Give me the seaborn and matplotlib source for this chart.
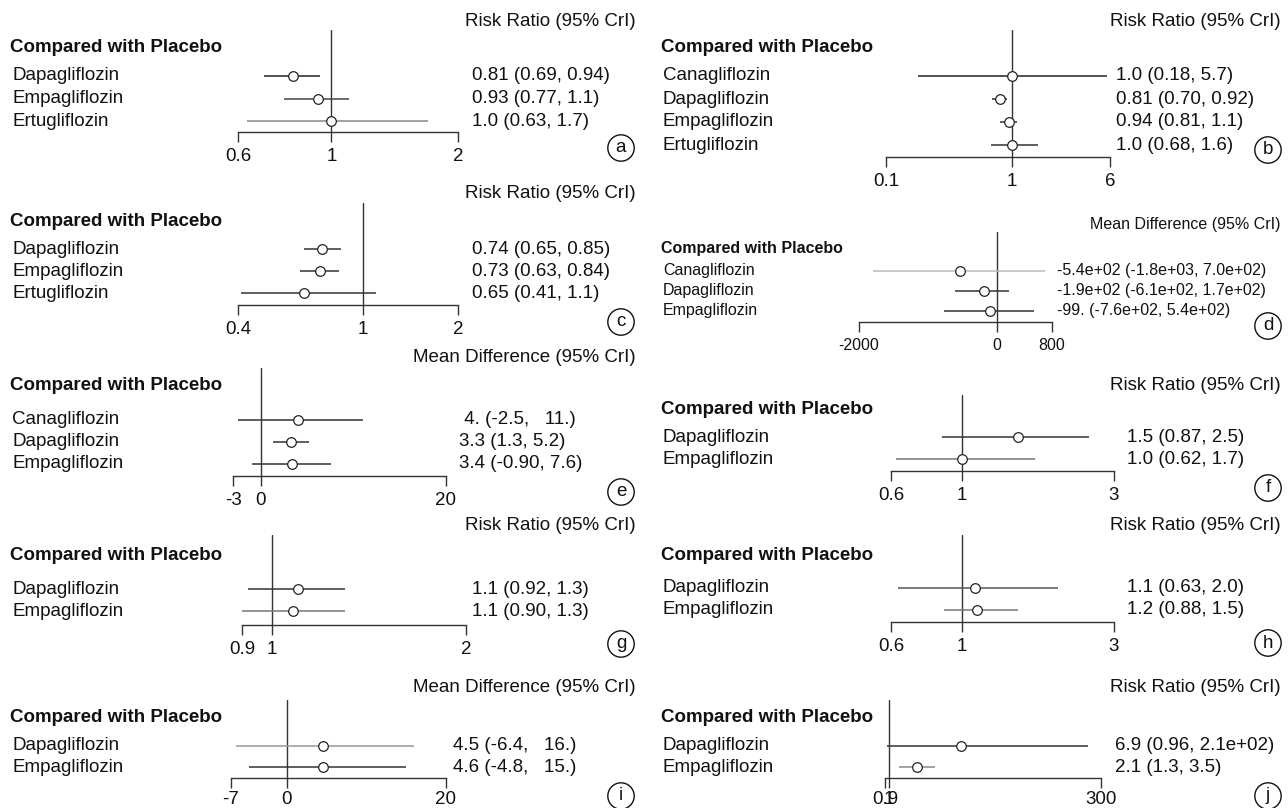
import numpy as np
import pandas as pd
import matplotlib
matplotlib.use("Agg")
import matplotlib.pyplot as plt
import matplotlib.transforms as mtransforms
from matplotlib.ticker import NullLocator
import seaborn as sns

# ---- data ----
drugs_a = ["Dapagliflozin", "Empagliflozin", "Ertugliflozin"]
est_a = [0.81, 0.93, 1.0]
lo_a = [0.69, 0.77, 0.63]
hi_a = [0.94, 1.1, 1.7]
txt_a = ["0.81 (0.69, 0.94)", "0.93 (0.77, 1.1)", "1.0 (0.63, 1.7)"]
ticks_a = [0.6, 1, 2]

drugs_b = ["Canagliflozin", "Dapagliflozin", "Empagliflozin", "Ertugliflozin"]
est_b = [1.0, 0.81, 0.94, 1.0]
lo_b = [0.18, 0.70, 0.81, 0.68]
hi_b = [5.7, 0.92, 1.1, 1.6]
txt_b = ["1.0 (0.18, 5.7)", "0.81 (0.70, 0.92)", "0.94 (0.81, 1.1)", "1.0 (0.68, 1.6)"]
ticks_b = [0.1, 1, 6]

drugs_c = ["Dapagliflozin", "Empagliflozin", "Ertugliflozin"]
est_c = [0.74, 0.73, 0.65]
lo_c = [0.65, 0.63, 0.41]
hi_c = [0.85, 0.84, 1.1]
txt_c = ["0.74 (0.65, 0.85)", "0.73 (0.63, 0.84)", "0.65 (0.41, 1.1)"]
ticks_c = [0.4, 1, 2]

drugs_d = ["Canagliflozin", "Dapagliflozin", "Empagliflozin"]
est_d = [-540, -190, -99]
lo_d = [-1800, -610, -760]
hi_d = [700, 170, 540]
txt_d = ["-5.4e+02 (-1.8e+03, 7.0e+02)", "-1.9e+02 (-6.1e+02, 1.7e+02)",
         "-99. (-7.6e+02, 5.4e+02)"]
ticks_d = [-2000, 0, 800]

drugs_e = ["Canagliflozin", "Dapagliflozin", "Empagliflozin"]
est_e = [4.0, 3.3, 3.4]
lo_e = [-2.5, 1.3, -0.90]
hi_e = [11.0, 5.2, 7.6]
txt_e = [" 4. (-2.5,   11.)", "3.3 (1.3, 5.2)", "3.4 (-0.90, 7.6)"]
ticks_e = [-3, 0, 20]

drugs_f = ["Dapagliflozin", "Empagliflozin"]
est_f = [1.5, 1.0]
lo_f = [0.87, 0.62]
hi_f = [2.5, 1.7]
txt_f = ["1.5 (0.87, 2.5)", "1.0 (0.62, 1.7)"]
ticks_f = [0.6, 1, 3]

drugs_g = ["Dapagliflozin", "Empagliflozin"]
est_g = [1.1, 1.08]
lo_g = [0.92, 0.90]
hi_g = [1.3, 1.3]
txt_g = ["1.1 (0.92, 1.3)", "1.1 (0.90, 1.3)"]
ticks_g = [0.9, 1, 2]

drugs_h = ["Dapagliflozin", "Empagliflozin"]
est_h = [1.1, 1.12]
lo_h = [0.63, 0.88]
hi_h = [2.0, 1.5]
txt_h = ["1.1 (0.63, 2.0)", "1.2 (0.88, 1.5)"]
ticks_h = [0.6, 1, 3]

drugs_i = ["Dapagliflozin", "Empagliflozin"]
est_i = [4.5, 4.6]
lo_i = [-6.4, -4.8]
hi_i = [16.0, 15.0]
txt_i = ["4.5 (-6.4,   16.)", "4.6 (-4.8,   15.)"]
ticks_i = [-7, 0, 20]

drugs_j = ["Dapagliflozin", "Empagliflozin"]
est_j = [6.9, 2.1]
lo_j = [0.96, 1.3]
hi_j = [210, 3.5]
txt_j = ["6.9 (0.96, 2.1e+02)", "2.1 (1.3, 3.5)"]
ticks_j = [0.9, 1, 300]

RR = "Risk Ratio (95% CrI)"
MD = "Mean Difference (95% CrI)"

# ---- layout in pixels ----
W, H = 1288, 808
panels = [
    dict(k="a", d=(drugs_a, est_a, lo_a, hi_a, txt_a, ticks_a), title=RR, log=True, ref=1,
         x0=238, x1=458, top=30, axis=132, row0=76, step=22.5, ty=22, cy=47, vx=472, cc=148,
         greys=["#222222", "#444444", "#888888"], fs=13.5, pad=4.5),
    dict(k="c", d=(drugs_c, est_c, lo_c, hi_c, txt_c, ticks_c), title=RR, log=True, ref=1,
         x0=238, x1=458, top=203, axis=305, row0=249, step=22, ty=194, cy=222, vx=472, cc=322,
         greys=["#333333", "#333333", "#333333"], fs=13.5, pad=4.5),
    dict(k="e", d=(drugs_e, est_e, lo_e, hi_e, txt_e, ticks_e), title=MD, log=False, ref=0,
         x0=233, x1=446, top=368, axis=476, row0=420, step=22, ty=357, cy=385, vx=459, cc=492,
         greys=["#333333", "#333333", "#333333"], fs=13.5, pad=4.5),
    dict(k="g", d=(drugs_g, est_g, lo_g, hi_g, txt_g, ticks_g), title=RR, log=True, ref=1,
         x0=242, x1=466, top=535, axis=625, row0=589, step=22, ty=525, cy=556, vx=472, cc=644,
         greys=["#333333", "#777777"], fs=13.5, pad=4.5),
    dict(k="i", d=(drugs_i, est_i, lo_i, hi_i, txt_i, ticks_i), title=MD, log=False, ref=0,
         x0=231, x1=446, top=700, axis=778, row0=746, step=21, ty=688, cy=717, vx=453, cc=796,
         greys=["#999999", "#333333"], fs=13.5, pad=2),
    dict(k="b", d=(drugs_b, est_b, lo_b, hi_b, txt_b, ticks_b), title=RR, log=True, ref=1,
         x0=886, x1=1110, top=30, axis=157, row0=76, step=23, ty=22, cy=48, vx=1116, cc=150,
         greys=["#222222", "#333333", "#333333", "#333333"], fs=13.5, pad=4.5),
    dict(k="d", d=(drugs_d, est_d, lo_d, hi_d, txt_d, ticks_d), title=MD, log=False, ref=0,
         x0=859, x1=1052, top=232, axis=322, row0=271, step=20, ty=224, cy=326, vx=1057, cc=326,
         greys=["#bbbbbb", "#333333", "#333333"], fs=11.5, pad=4.5),
    dict(k="f", d=(drugs_f, est_f, lo_f, hi_f, txt_f, ticks_f), title=RR, log=True, ref=1,
         x0=891, x1=1114, top=395, axis=471, row0=437, step=22, ty=385, cy=409, vx=1127, cc=488,
         greys=["#333333", "#777777"], fs=13.5, pad=4.5),
    dict(k="h", d=(drugs_h, est_h, lo_h, hi_h, txt_h, ticks_h), title=RR, log=True, ref=1,
         x0=891, x1=1114, top=535, axis=622, row0=588, step=22, ty=525, cy=555, vx=1127, cc=643,
         greys=["#555555", "#777777"], fs=13.5, pad=4.5),
    dict(k="j", d=(drugs_j, est_j, lo_j, hi_j, txt_j, ticks_j), title=RR, log=True, ref=1,
         x0=885, x1=1101, top=700, axis=778, row0=746, step=21, ty=688, cy=717, vx=1115, cc=796,
         greys=["#333333", "#888888"], fs=13.5, pad=2),
]
# panel d: "Compared with Placebo" sits higher than its letter circle
panels[6]["cy"] = 248

sns.set_style("white")
plt.rcParams["font.family"] = ["Liberation Sans", "DejaVu Sans"]

fig = plt.figure(figsize=(W / 100, H / 100), dpi=100)
fig.patch.set_facecolor("white")


def fx(px):
    return px / W


def fy(py):
    return 1 - py / H


for p in panels:
    drugs, est, lo, hi, txt, ticks = p["d"]
    right_col = p["x0"] > 644
    lab_x = 663 if right_col else 12
    title_x = 1281 if right_col else 636
    circ_x = 1268 if right_col else 621
    fs = p["fs"]

    ax = fig.add_axes([fx(p["x0"]), fy(p["axis"]), (p["x1"] - p["x0"]) / W,
                       (p["axis"] - p["top"]) / H])
    df = pd.DataFrame({"drug": drugs, "est": est, "lo": lo, "hi": hi,
                       "row": np.arange(len(drugs))})

    ax.axvline(p["ref"], color="#333333", lw=1.0, zorder=1)
    ax.hlines(df["row"], df["lo"], df["hi"], colors=p["greys"], lw=1.1, zorder=2)
    sns.scatterplot(data=df, x="est", y="row", ax=ax, marker="o", s=48,
                    facecolor="white", edgecolor="#222222", linewidth=0.9,
                    zorder=3, legend=False)

    if p["log"]:
        ax.set_xscale("log")
    ax.set_xlim(ticks[0], ticks[-1])
    ax.set_xticks(ticks)
    ax.set_xticklabels([f"{t:g}" for t in ticks], fontsize=fs)
    ax.xaxis.set_minor_locator(NullLocator())
    ax.set_ylim((p["axis"] - p["row0"]) / p["step"], (p["top"] - p["row0"]) / p["step"])
    ax.set_yticks([])
    ax.set_xlabel("")
    ax.set_ylabel("")
    ax.patch.set_alpha(0)
    for s in ["top", "left", "right"]:
        ax.spines[s].set_visible(False)
    ax.spines["bottom"].set_color("#333333")
    ax.spines["bottom"].set_linewidth(1.0)
    ax.tick_params(axis="x", direction="out", length=7, width=1.0,
                   color="#333333", pad=p["pad"], labelcolor="#111111", bottom=True)

    tr = mtransforms.blended_transform_factory(fig.transFigure, ax.transData)
    for r, (name, t) in enumerate(zip(drugs, txt)):
        ax.text(fx(lab_x), r, name, transform=tr, ha="left", va="center",
                fontsize=fs, color="#111111")
        ax.text(fx(p["vx"]), r, t, transform=tr, ha="left", va="center",
                fontsize=fs, color="#111111")

    fig.text(fx(title_x), fy(p["ty"]), p["title"], ha="right", va="center",
             fontsize=fs, color="#111111")
    fig.text(fx(lab_x - 2), fy(p["cy"]), "Compared with Placebo", ha="left",
             va="center", fontsize=fs, fontweight="bold", color="#111111")
    fig.text(fx(circ_x), fy(p["cc"]), p["k"], ha="center", va="center",
             fontsize=13.5, color="#111111",
             bbox=dict(boxstyle="circle,pad=0.25", fc="white", ec="#111111", lw=1.0))

fig.savefig("out.png", dpi=100, facecolor="white")
